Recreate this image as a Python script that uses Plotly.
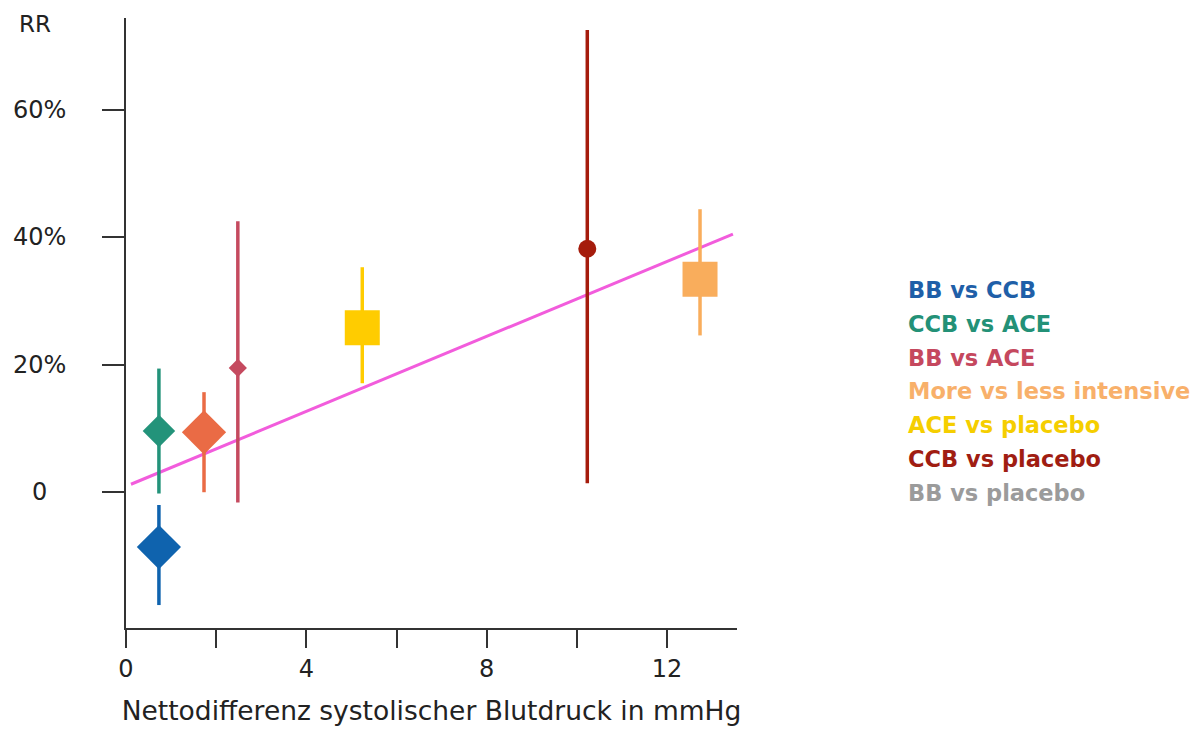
import plotly.graph_objects as go

# ---- data ----
series_names = ["BB vs CCB", "CCB vs ACE", "BB vs placebo", "BB vs ACE",
                "ACE vs placebo", "CCB vs placebo", "More vs less intensive"]
x_vals = [0.73, 0.73, 1.73, 2.48, 5.24, 10.23, 12.73]
rr_vals = [-8.6, 9.6, 9.4, 19.5, 25.8, 38.2, 33.4]
rr_hi = [-2.0, 19.4, 15.7, 42.5, 35.3, 72.5, 44.4]
rr_lo = [-17.7, -0.2, 0.0, -1.6, 17.1, 1.4, 24.6]
marker_colors = ["#0F63AE", "#23937A", "#EA6B45", "#C54A5F", "#FFCC00", "#A51C0C", "#F9AD5C"]
marker_symbols = ["diamond", "diamond", "diamond", "diamond", "square", "circle", "square"]
marker_sizes = [34, 25, 34, 14, 35, 18, 35]

trend_x = [0.11, 13.46]
trend_y = [1.25, 40.5]

legend_labels = ["BB vs CCB", "CCB vs ACE", "BB vs ACE", "More vs less intensive",
                 "ACE vs placebo", "CCB vs placebo", "BB vs placebo"]
legend_colors = ["#1F5FA8", "#239177", "#C5485E", "#F8B06A", "#F5CE00", "#A01D12", "#9B9B9B"]

y_tick_vals = [0, 20, 40, 60]
y_tick_text = ["0", "20%", "40%", "60%"]
x_tick_vals = [0, 2, 4, 6, 8, 10, 12]
x_tick_text = ["0", "", "4", "", "8", "", "12"]

FONT = "DejaVu Sans"

fig = go.Figure()

fig.add_trace(go.Scatter(x=trend_x, y=trend_y, mode="lines",
                         line=dict(color="#F25CDC", width=3), showlegend=False,
                         hoverinfo="skip"))

for i, name in enumerate(series_names):
    fig.add_trace(go.Scatter(
        x=[x_vals[i]], y=[rr_vals[i]], mode="markers", name=name,
        marker=dict(color=marker_colors[i], symbol=marker_symbols[i], size=marker_sizes[i],
                    line=dict(width=0)),
        error_y=dict(type="data", symmetric=False,
                     array=[rr_hi[i] - rr_vals[i]], arrayminus=[rr_vals[i] - rr_lo[i]],
                     color=marker_colors[i], thickness=3.5, width=0),
        showlegend=False))

# plot area pixel geometry
L, R, T, B = 126, 737, 18, 628
W, H = R - L, B - T

annotations = []
for i, lab in enumerate(legend_labels):
    ypix = 290 + i * 33.8
    annotations.append(dict(text=lab, xref="paper", yref="paper",
                            x=(906 - L) / W, y=(B - ypix) / H, xanchor="left", yanchor="middle",
                            showarrow=False,
                            font=dict(family=FONT, size=22.5, color=legend_colors[i], weight="bold")))
for v, t in zip(y_tick_vals, y_tick_text):
    annotations.append(dict(text=t, xref="paper", yref="y", x=(39 - L) / W, y=v,
                            xanchor="center", yanchor="middle", showarrow=False,
                            font=dict(family=FONT, size=24, color="#222")))
annotations.append(dict(text="RR", xref="paper", yref="paper", x=(35 - L) / W, y=(B - 24) / H,
                        xanchor="center", yanchor="middle", showarrow=False,
                        font=dict(family=FONT, size=23, color="#222")))

fig.update_layout(
    width=1197, height=730,
    margin=dict(l=L, r=1197 - R, t=T, b=730 - B),
    paper_bgcolor="white", plot_bgcolor="white",
    font=dict(family=FONT, color="#222"),
    showlegend=False,
    annotations=annotations,
    xaxis=dict(range=[0, 13.55], showgrid=False, zeroline=False, automargin=False,
               showline=True, linecolor="#333", linewidth=2,
               ticks="outside", ticklen=18, tickwidth=2, tickcolor="#333",
               tickvals=x_tick_vals, ticktext=x_tick_text,
               tickfont=dict(family=FONT, size=24, color="#222"),
               title=dict(text="Nettodifferenz systolischer Blutdruck in mmHg",
                          font=dict(family=FONT, size=26.5, color="#222"), standoff=20)),
    yaxis=dict(range=[-21.3, 74.4], showgrid=False, zeroline=False, automargin=False,
               showline=True, linecolor="#333", linewidth=2,
               ticks="outside", ticklen=22, tickwidth=2, tickcolor="#333",
               tickvals=y_tick_vals, showticklabels=False),
)

fig.write_html("out.html")
